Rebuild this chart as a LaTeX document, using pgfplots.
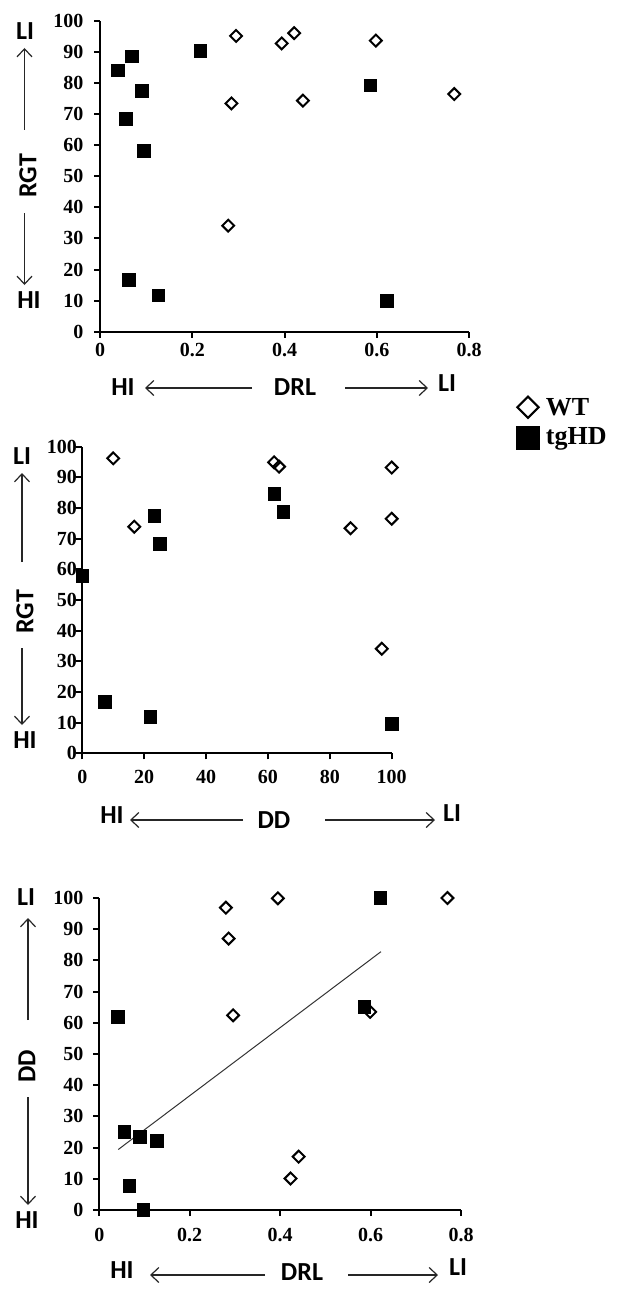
\documentclass[border=0pt]{standalone}
\usepackage{pgfplots}
\pgfplotsset{compat=1.18}
\usepackage{fontspec}
\setmainfont{Liberation Serif}
\newfontfamily\calib{Carlito}
\usetikzlibrary{arrows.meta}

\pgfplotsset{
  panel/.style={
    scale only axis, clip=false,
    axis lines=left, axis line style={-, line width=2pt, black},
    xmin=0, ymin=0, ymax=100,
    ytick={0,10,...,100},
    tick align=outside, major tick length=6pt,
    xtick style={black, line width=2pt}, ytick style={black, line width=2pt},
    tick label style={font=\bfseries\fontsize{20}{20}\selectfont},
    /pgf/number format/assume math mode=true,
    anchor=south west,
  },
  wt/.style={only marks, mark=square, mark size=4.2pt,
    mark options={rotate=45, fill=white, draw=black, line width=2pt}},
  tg/.style={only marks, mark=square*, mark size=6.3pt,
    mark options={fill=black, draw=black, line width=0.5pt}},
}
\newcommand\lab[1]{{\calib\bfseries\fontsize{26}{26}\selectfont #1}}
\tikzset{arr/.style={line width=1.2pt, black!85, -{Straight Barb[length=8pt,width=15pt,line width=1.2pt]}}}

\begin{document}
\begin{tikzpicture}
\useasboundingbox (0,0) rectangle (628pt,-1300pt);

% ---------- Panel 1: RGT vs DRL
\begin{axis}[panel, at={(100pt,-331.7pt)}, width=369pt, height=311pt,
  xmax=0.8, xtick={0,0.2,0.4,0.6,0.8},
  yticklabel style={xshift=-7pt}, xticklabel style={yshift=-2pt}]
\addplot[wt] coordinates {
 (0.295,95.1) (0.394,92.7) (0.421,96.0) (0.598,93.6)
 (0.285,73.4) (0.440,74.3) (0.768,76.4) (0.278,34.1)};
\addplot[tg] coordinates {
 (0.038,84.1) (0.069,88.6) (0.217,90.4) (0.090,77.5) (0.056,68.5)
 (0.095,58.1) (0.586,79.2) (0.062,16.8) (0.126,11.7) (0.622,10.0)};
\end{axis}

% ---------- Panel 2: RGT vs DD
\begin{axis}[panel, at={(82.3pt,-753.3pt)}, width=309.4pt, height=306.6pt,
  xmax=100, xtick={0,20,40,60,80,100},
  yticklabel style={xshift=4pt}, xticklabel style={yshift=-7pt},
  legend style={at={(1.401,1.166)}, anchor=north west, draw=none, fill=none,
    inner sep=0pt, row sep=7pt, font=\bfseries\fontsize{26}{26}\selectfont},
  legend cell align=left]
\addplot[wt, legend image code/.code={
   \path[draw=none, fill=none] (0,-1pt) rectangle (28pt,1pt);
   \draw[mark=square, mark size=7.5pt, mark options={rotate=45, fill=white, draw=black, line width=2.2pt}]
   plot coordinates {(12pt,0)};}] coordinates {
 (10.0,96.2) (16.8,73.9) (62.0,94.9) (63.6,93.5)
 (100,93.2) (100,76.5) (86.7,73.4) (96.8,34.1)};
\addlegendentry{WT}
\addplot[tg, legend image code/.code={
   \path[draw=none, fill=none] (0,-1pt) rectangle (28pt,1pt);
   \fill[black] (0.5pt,-11.5pt) rectangle (23.5pt,11.5pt);}] coordinates {
 (0,57.9) (7.3,16.8) (22.0,12.0) (23.2,77.5) (25.1,68.3)
 (62.0,84.6) (65.0,78.7) (100,9.6)};
\addlegendentry{tgHD}
\end{axis}

% ---------- Panel 3: DD vs DRL
\begin{axis}[panel, at={(99.3pt,-1210pt)}, width=361.7pt, height=312pt,
  xmax=0.8, xtick={0,0.2,0.4,0.6,0.8},
  yticklabel style={xshift=-6.5pt}, xticklabel style={yshift=-9pt}]
\addplot[no marks, black!80, line width=1pt] coordinates {(0.042,19.4) (0.623,82.8)};
\addplot[wt] coordinates {
 (0.280,96.9) (0.395,99.9) (0.770,100) (0.286,87.0)
 (0.296,62.4) (0.599,63.5) (0.441,17.1) (0.423,10.1)};
\addplot[tg] coordinates {
 (0.041,62.0) (0.055,25.1) (0.090,23.5) (0.127,22.2)
 (0.066,7.7) (0.097,0) (0.586,65.2) (0.621,100)};
\end{axis}

% ---------- annotations panel 1
\node at (25pt,-31pt) {\lab{LI}};
\draw[arr] (24.5pt,-130pt) -- (24.5pt,-48pt);
\node[rotate=90] at (28pt,-176pt) {\lab{RGT}};
\draw[arr] (24.5pt,-213pt) -- (24.5pt,-285pt);
\node at (29pt,-300pt) {\lab{HI}};
\node at (123pt,-387pt) {\lab{HI}};
\draw[arr] (252pt,-388pt) -- (145pt,-388pt);
\node at (295pt,-387pt) {\lab{DRL}};
\draw[arr] (345pt,-388pt) -- (428pt,-388pt);
\node at (447pt,-383pt) {\lab{LI}};

% ---------- annotations panel 2
\node at (22pt,-456pt) {\lab{LI}};
\draw[arr] (22pt,-562pt) -- (22pt,-473pt);
\node[rotate=90] at (25pt,-612pt) {\lab{RGT}};
\draw[arr] (22pt,-648pt) -- (22pt,-725pt);
\node at (25pt,-740pt) {\lab{HI}};
\node at (112pt,-815pt) {\lab{HI}};
\draw[arr] (243pt,-820pt) -- (130pt,-820pt);
\node at (274pt,-820pt) {\lab{DD}};
\draw[arr] (325pt,-820pt) -- (435pt,-820pt);
\node at (452pt,-813pt) {\lab{LI}};

% ---------- annotations panel 3
\node at (26pt,-897pt) {\lab{LI}};
\draw[arr] (28pt,-1020pt) -- (28pt,-918pt);
\node[rotate=90] at (27pt,-1066pt) {\lab{DD}};
\draw[arr] (28pt,-1097pt) -- (28pt,-1205pt);
\node at (27pt,-1220pt) {\lab{HI}};
\node at (122pt,-1270pt) {\lab{HI}};
\draw[arr] (265pt,-1275pt) -- (150pt,-1275pt);
\node at (302pt,-1272pt) {\lab{DRL}};
\draw[arr] (348pt,-1275pt) -- (438pt,-1275pt);
\node at (458pt,-1267pt) {\lab{LI}};
\end{tikzpicture}
\end{document}
